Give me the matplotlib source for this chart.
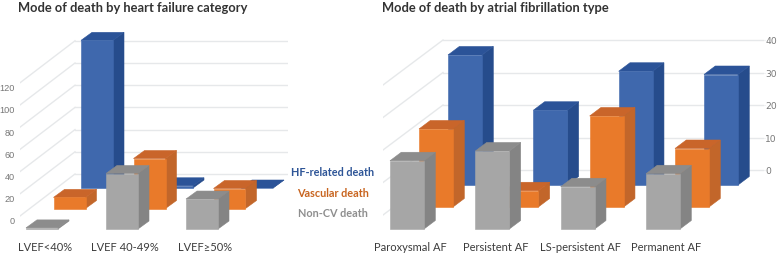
import matplotlib
matplotlib.use('Agg')
from matplotlib import pyplot as plt

W, H = 777, 255

# left chart values
hf_cats = ['LVEF<40%', 'LVEF 40-49%', 'LVEF≥50%']
hf_blue = [133, 2, 0]
hf_orange = [10, 45, 18]
hf_gray = [1, 50, 27]
hf_ticks = [0, 20, 40, 60, 80, 100, 120]

# right chart values
af_cats = ['Paroxysmal AF', 'Persistent AF', 'LS-persistent AF', 'Permanent AF']
af_blue = [40, 23, 35, 34]
af_orange = [24, 5, 28, 18]
af_gray = [21, 24, 13, 17]
af_ticks = [0, 10, 20, 30, 40]

BLUE = ('#3F68AD', '#264C8C', '#2B5398')
ORANGE = ('#E97A2A', '#C2662A', '#C9652A')
GRAY = ('#A6A6A6', '#848484', '#8C8C8C')
GRID = '#E6E8EA'
TITLE_FONT = 'Lato'


def bar3d(ax, x, base, value, w, dx, dy, cols):
    top = base + value
    # the thin edge in the face colour closes the seams between faces
    ax.fill([x + w, x + w + dx, x + w + dx, x + w],
            [base, base + dy, top + dy, top], fc=cols[1], ec=cols[1], lw=0.4, zorder=3)
    ax.fill([x, x + w, x + w + dx, x + dx],
            [top, top, top + dy, top + dy], fc=cols[2], ec=cols[2], lw=0.4, zorder=3)
    ax.fill([x, x + w, x + w, x], [base, base, top, top],
            fc=cols[0], ec=cols[0], lw=0.4, zorder=3)


def chart(box, cats, blue, orange, gray, ticks, c):
    # box is left, right, top, bottom of the axes in pixels
    l, r, t, b = box
    ax = fig.add_axes([l / W, 1 - b / H, (r - l) / W, (b - t) / H])
    sx, sy = c['spacing'], c['unit']
    ax.set_xlim((l - c['x0']) / sx, (r - c['x0']) / sx)
    ax.set_ylim((c['base'] - b) / sy, (c['base'] - t) / sy)
    for s in ax.spines.values():
        s.set_visible(False)
    ax.patch.set_alpha(0)

    # back wall and side wall lines
    wall_x = (c['wall'] - c['x0']) / sx
    end_x = (c['grid_end'] - c['x0']) / sx
    side_x = (c['side'] - c['x0']) / sx
    back = (c['base'] - c['back0']) / sy
    for v in ticks:
        ax.plot([wall_x, end_x], [back + v, back + v], color=GRID, lw=1, zorder=1)
        ax.plot([side_x, wall_x], [back + v - c['side_dy'] / sy, back + v],
                color=GRID, lw=1, zorder=1)

    w = c['width'] / sx
    dx = c['dx'] / sx
    dy = c['dy'] / sy
    rows = [(blue, BLUE, 2), (orange, ORANGE, 1), (gray, GRAY, 0)]
    for vals, cols, row in rows:
        for i, v in enumerate(vals):
            x = i - w / 2 + row * c['row_dx'] / sx
            bar3d(ax, x, row * c['row_dy'] / sy, v, w, dx, dy, cols)

    ax.set_xticks([i + 3 / sx for i in range(len(cats))], cats)
    ax.tick_params(axis='x', length=0, pad=c['xpad'], labelsize=8,
                   labelcolor='#3c3c3c')
    for lab in ax.get_xticklabels():
        lab.set_family('Lato')

    off = c['tick_off'] / sy
    ax.set_yticks([v + off for v in ticks], [str(v) for v in ticks])
    ax.tick_params(axis='y', length=c['tick_len'], color=GRID, pad=c['ypad'],
                   labelsize=6.6, labelcolor='#777777')
    for lab in ax.get_yticklabels():
        lab.set_family('Liberation Sans')
    if c['right']:
        ax.yaxis.tick_right()
    return ax


fig = plt.figure(figsize=(W / 100, H / 100), dpi=100)

chart((20, 288, 25, 232), hf_cats, hf_blue, hf_orange, hf_gray, hf_ticks,
      dict(spacing=80, unit=1.11, x0=42, base=230, wall=75, grid_end=288,
           side=20, back0=175, side_dy=42, width=32, dx=11, dy=8,
           row_dx=27.5, row_dy=20.5, xpad=7, ypad=3.5, tick_off=9, tick_len=0,
           right=False))

chart((383, 764, 25, 232), af_cats, af_blue, af_orange, af_gray, af_ticks,
      dict(spacing=85.33, unit=3.25, x0=407, base=230, wall=443, grid_end=763,
           side=383, back0=171, side_dy=45, width=34, dx=11.3, dy=8.5,
           row_dx=29, row_dy=22, xpad=7, ypad=0, tick_off=59, tick_len=1,
           right=True))

fig.text(18 / W, 1 - 8 / H, 'Mode of death by heart failure category',
         family=TITLE_FONT, weight='bold', fontsize=9.3, color='#333333',
         va='center')
fig.text(382 / W, 1 - 8 / H, 'Mode of death by atrial fibrillation type',
         family=TITLE_FONT, weight='bold', fontsize=9.3, color='#333333',
         va='center')

fig.text(333 / W, 1 - 173 / H, 'HF-related death', family=TITLE_FONT, weight='bold',
         fontsize=7.8, color='#2E5597', ha='center', va='center')
fig.text(333 / W, 1 - 194 / H, 'Vascular death', family=TITLE_FONT, weight='bold',
         fontsize=7.8, color='#C8641F', ha='center', va='center')
fig.text(333 / W, 1 - 214 / H, 'Non-CV death', family=TITLE_FONT, weight='bold',
         fontsize=7.8, color='#8E8E8E', ha='center', va='center')

fig.savefig('out.png', dpi=100)
